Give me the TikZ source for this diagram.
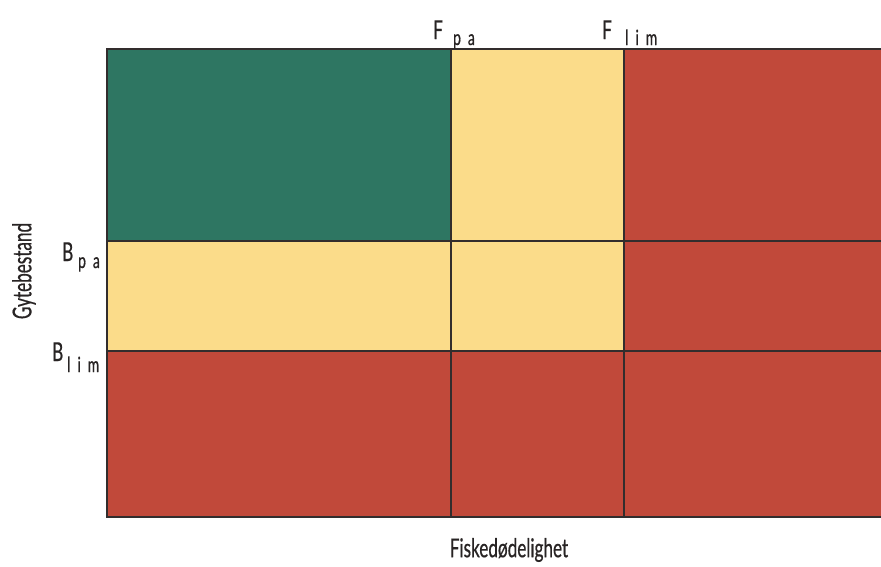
\documentclass[tikz,border=0pt]{standalone}
\usepackage{fontspec}
\newfontfamily\gfont[FakeStretch=0.66,FakeBold=0.6]{Lato}
\definecolor{cgreen}{RGB}{46,118,98}
\definecolor{cyellow}{RGB}{251,220,138}
\definecolor{cred}{RGB}{193,73,58}
\definecolor{cline}{RGB}{50,45,45}
\definecolor{ctext}{RGB}{40,36,36}
\tikzset{
  gridline/.style={draw=cline, line width=1.8pt},
  lbl/.style={font=\gfont\fontsize{26}{28}\selectfont, text=ctext, inner sep=0pt},
  sub/.style={font=\gfont\fontsize{21}{24}\selectfont, text=ctext, inner sep=0pt},
}
\begin{document}
\begin{tikzpicture}[x=1pt,y=-1pt]
\useasboundingbox (0,0) rectangle (881,566);
% cells
\fill[cgreen] (107,49) rectangle (451,241);
\fill[cyellow] (451,49) rectangle (624,241);
\fill[cred] (624,49) rectangle (881,241);
\fill[cyellow] (107,241) rectangle (451,351);
\fill[cyellow] (451,241) rectangle (624,351);
\fill[cred] (624,241) rectangle (881,351);
\fill[cred] (107,351) rectangle (881,517);
% coordinates
\coordinate (tl) at (107,49);
\coordinate (tr) at (881,49);
\coordinate (bl) at (107,517);
\coordinate (br) at (881,517);
\coordinate (v1t) at (451,49);
\coordinate (v1b) at (451,517);
\coordinate (v2t) at (624,49);
\coordinate (v2b) at (624,517);
\coordinate (h1l) at (107,241);
\coordinate (h1r) at (881,241);
\coordinate (h2l) at (107,351);
\coordinate (h2r) at (881,351);
\draw[gridline] (tr) -- (tl) -- (bl) -- (br);
\draw[gridline] (v1t) -- (v1b);
\draw[gridline] (v2t) -- (v2b);
\draw[gridline] (h1l) -- (h1r);
\draw[gridline] (h2l) -- (h2r);
% labels
\node[lbl, anchor=base west] (fpa) at (433,39) {F};
\node[sub, anchor=base west] (fpasub) at (453,45) {p\,\,a};
\node[lbl, anchor=base west] (flim) at (602,39) {F};
\node[sub, anchor=base west] (flimsub) at (625,45) {l\,\,i\,\,m};
\node[lbl, anchor=base west] (bpa) at (62,261) {B};
\node[sub, anchor=base west] (bpasub) at (78,268) {p\,\,a};
\node[lbl, anchor=base west] (blim) at (52,361) {B};
\node[sub, anchor=base west] (blimsub) at (67,372) {l\,\,i\,\,m};
\node[lbl, rotate=90] (ylab) at (24,271) {Gytebestand};
\node[lbl] (xlab) at (509,550) {Fiskedødelighet};
\end{tikzpicture}
\end{document}
